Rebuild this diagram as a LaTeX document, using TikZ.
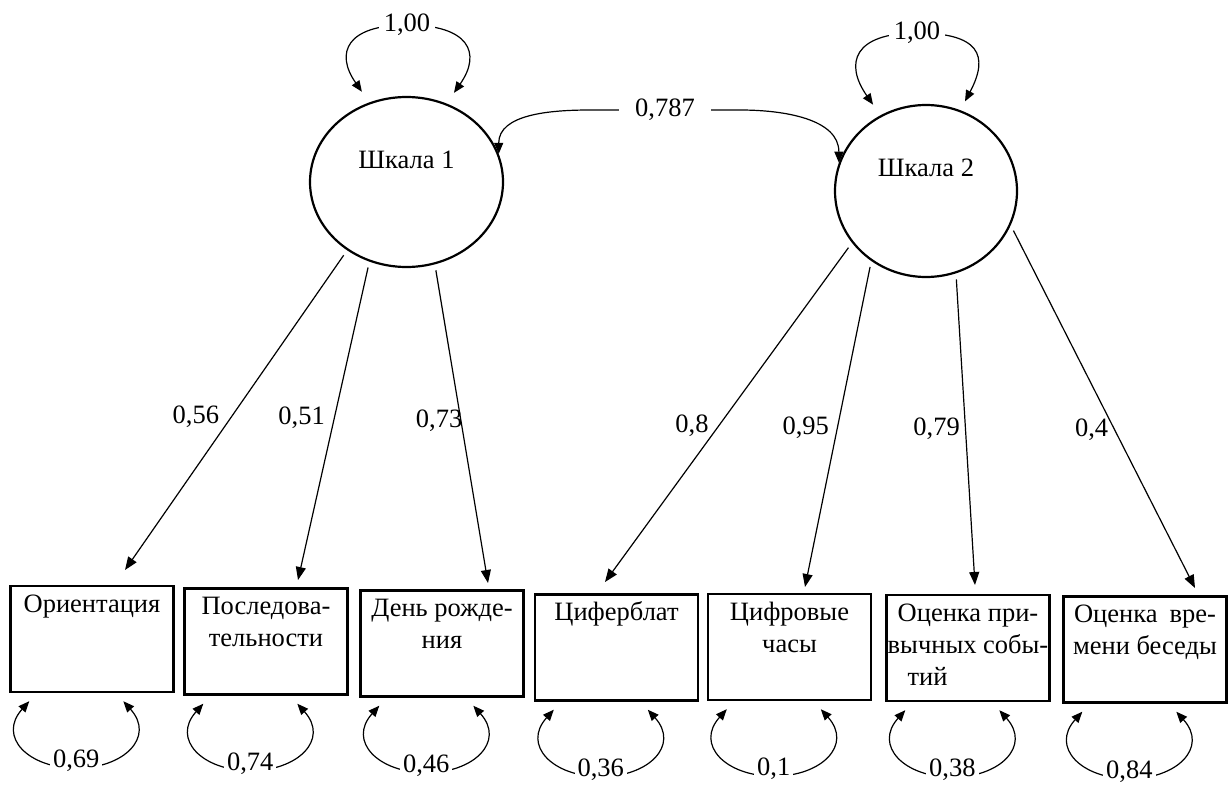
\documentclass[tikz,border=0pt]{standalone}
\usepackage{fontspec}
\setmainfont{Liberation Serif}
\usetikzlibrary{arrows.meta,calc,shapes.geometric}
\newcommand{\bxt}[1]{\parbox[c][100pt][t]{157pt}{\centering\rule{0pt}{23pt}#1}}
\newcommand{\fl}[1]{\makebox[157pt][c]{#1}}
\newcommand{\resloop}[2]{%
  \draw[dbl] ($(#1.south west)+(20,-8)$)
    to[out=228,in=180,looseness=1.5] ($(#1.south west)+(67,-75)$)
    node[wlab,yshift=7pt]{#2}
    to[out=0,in=312,looseness=1.5] ($(#1.south west)+(114,-8)$);}
\begin{document}
\begin{tikzpicture}[x=1pt,y=1pt,
  every node/.append style={font=\fontsize{26.5}{32}\selectfont},
  latent/.style={ellipse,draw,line width=2.2pt,inner sep=0pt},
  obs/.style={rectangle,draw,line width=2.4pt,minimum width=163pt,minimum height=106pt,inner sep=0pt},
  load/.style={line width=1.2pt,shorten <=6pt,-{Triangle[length=13pt,width=10pt]}},
  dbl/.style={line width=1.2pt,{Triangle[length=11pt,width=9pt]}-{Triangle[length=11pt,width=9pt]}},
  wlab/.style={fill=white,inner xsep=3pt,inner ysep=1pt},
  ll/.style={anchor=east,inner sep=0pt}]
\useasboundingbox (0,0) rectangle (1228,-787);

% latent variables
\node[latent,minimum width=193pt,minimum height=170pt,
      label={[yshift=22pt]center:Шкала 1}] (c1) at (406.5,-182) {};
\node[latent,minimum width=182pt,minimum height=172pt,
      label={[yshift=23pt]center:Шкала 2}] (c2) at (926,-191) {};

% observed variables
\node[obs] (b1) at (92,-639)    {\bxt{Ориентация}};
\node[obs] (b2) at (266,-641.5) {\bxt{Последова-\\тельности}};
\node[obs] (b3) at (442,-643.5) {\bxt{День рожде-\\ния}};
\node[obs] (b4) at (616.5,-647.5) {\bxt{Циферблат}};
\node[obs] (b5) at (789.5,-647) {\bxt{Цифровые\\часы}};
\node[obs] (b6) at (968,-648)   {\bxt{\fl{Оценка при-}\\\fl{вычных собы-}\\\makebox[157pt][l]{\hspace{18pt}тий}}};
\node[obs] (b7) at (1145,-649.5) {\bxt{\fl{Оценка\hspace{12pt}вре-}\\\fl{мени беседы}}};

% arrow tip points above the boxes
\coordinate (t1) at (125,-570);
\coordinate (t2) at (298,-580);
\coordinate (t3) at (488,-583);
\coordinate (t4) at (605,-582);
\coordinate (t5) at (805,-587);
\coordinate (t6) at (975,-585);
\coordinate (t7) at (1195,-588);

% loadings
\draw[load] (c1.229) -- node[ll,pos=0.52,xshift=-12pt]{0,56} (t1);
\draw[load] (c1.245) -- node[ll,pos=0.49,xshift=-9pt]{0,51} (t2);
\draw[load] (c1.289) -- node[ll,pos=0.49,xshift=2pt]{0,73} (t3);
\draw[load] (c2.215) -- node[ll,pos=0.538,xshift=-10pt]{0,8} (t4);
\draw[load] (c2.232) -- node[ll,pos=0.51,xshift=-8pt]{0,95} (t5);
\draw[load] (c2.290) -- node[ll,pos=0.498,xshift=-5pt]{0,79} (t6);
\draw[load] (c2.338) -- node[ll,pos=0.565,xshift=-6pt]{0,4} (t7);

% variances of latent variables
\draw[dbl,shorten <=13pt,shorten >=13pt] (c1.115)
  to[out=125,in=180,looseness=1.8] (407,-25) node[wlab,inner xsep=5pt]{1,00}
  to[out=0,in=55,looseness=1.8] (c1.63);
\draw[dbl,shorten <=13pt,shorten >=10pt] (c2.121)
  to[out=125,in=180,looseness=1.8] (917,-33) node[wlab,inner xsep=5pt]{1,00}
  to[out=0,in=62,looseness=1.8] (c2.67);

% covariance
\draw[dbl] (c1.17) to[out=90,in=180] (590,-110)
  -- node[wlab,inner xsep=16pt]{0,787} (740,-110)
  to[out=0,in=90] (c2.162);

% residual variances
\resloop{b1}{0,69}
\resloop{b2}{0,74}
\resloop{b3}{0,46}
\resloop{b4}{0,36}
\resloop{b5}{0,1}
\resloop{b6}{0,38}
\resloop{b7}{0,84}
\end{tikzpicture}
\end{document}
